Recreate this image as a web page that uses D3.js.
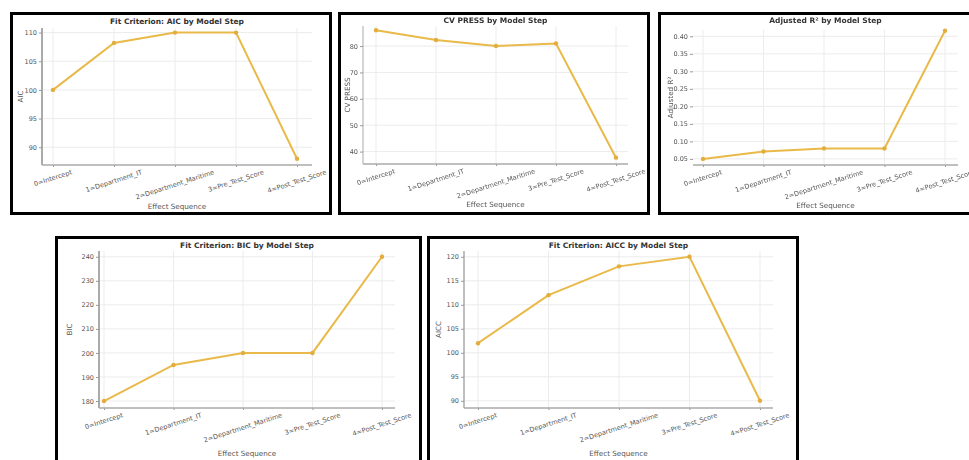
<!doctype html>
<html>
<head>
<meta charset="utf-8">
<style>
    body {
        margin: 0;
        background: #fff;
        font-family: 'DejaVu Sans', sans-serif;
    }
    svg {
        display: block;
        filter: blur(0.45px);
    }
    .grid line {
        stroke: #ececec;
        stroke-width: 1;
    }
    .tick text {
        font-size: 6.5px;
        fill: #555;
        font-family: 'DejaVu Sans', sans-serif;
    }
    .tick line {
        stroke: #999;
    }
    text.title {
        font-size: 7.5px;
        font-weight: bold;
        fill: #333;
    }
    text.label {
        font-size: 7.2px;
        fill: #555;
    }
    text.cat {
        font-size: 6.6px;
        fill: #555;
    }
    .series {
        fill: none;
        stroke: #e9b949;
        stroke-width: 2;
    }
    .dot {
        fill: #e2ad3a;
    }
</style>
<script src="https://d3js.org/d3.v7.min.js"></script>
</head>
<body>
<svg width="969" height="460"></svg>
<script>
    // model steps (x categories)
    const steps = ['0=Intercept', '1=Department_IT', '2=Department_Maritime', '3=Pre_Test_Score', '4=Post_Test_Score'];

    // series values
    const aicValues   = [100, 108.2, 110, 110, 88];
    const pressValues = [86, 82.3, 80, 81, 37.7];
    const adjR2Values = [0.05, 0.071, 0.08, 0.08, 0.416];
    const bicValues   = [180, 195, 200, 200, 240];
    const aiccValues  = [102, 112, 118, 120, 90];

    // tick labels
    const aicTicks   = [90, 95, 100, 105, 110];
    const pressTicks = [40, 50, 60, 70, 80];
    const adjR2Ticks = [0.05, 0.10, 0.15, 0.20, 0.25, 0.30, 0.35, 0.40];
    const bicTicks   = [180, 190, 200, 210, 220, 230, 240];
    const aiccTicks  = [90, 95, 100, 105, 110, 115, 120];

    // layout: box = outer frame, plot = [left, top, right, bottom], xr = first/last point
    const panels = [
        {title: 'Fit Criterion: AIC by Model Step', ylab: 'AIC', values: aicValues, ticks: aicTicks,
         fmt: d3.format('d'), box: [10, 12, 332, 215], plot: [42, 28, 312, 165], xr: [53, 297],
         yd: [86.9, 110.8], axisW: 2, ylabX: 20, titleY: 21, xlabY: 206},
        {title: 'CV PRESS by Model Step', ylab: 'CV PRESS', values: pressValues, ticks: pressTicks,
         fmt: d3.format('d'), box: [338, 12, 650, 215], plot: [363, 26, 628, 164], xr: [376, 616],
         yd: [35.3, 87.6], axisW: 1, ylabX: 347, titleY: 20, xlabY: 204},
        {title: 'Adjusted R\u00b2 by Model Step', ylab: 'Adjusted R\u00b2', values: adjR2Values, ticks: adjR2Ticks,
         fmt: d3.format('.2f'), box: [658, 12, 975, 215], plot: [693, 30, 958, 165], xr: [703, 945],
         yd: [0.0326, 0.418], axisW: 0, ylabX: 670, titleY: 20, xlabY: 205},
        {title: 'Fit Criterion: BIC by Model Step', ylab: 'BIC', values: bicValues, ticks: bicTicks,
         fmt: d3.format('d'), box: [55, 236, 422, 465], plot: [99, 251, 395, 408], xr: [104, 382],
         yd: [177.1, 242.4], axisW: 2, ylabX: 69, titleY: 245, xlabY: 453},
        {title: 'Fit Criterion: AICC by Model Step', ylab: 'AICC', values: aiccValues, ticks: aiccTicks,
         fmt: d3.format('d'), box: [427, 236, 799, 465], plot: [464, 251, 773, 408], xr: [478, 760],
         yd: [88.5, 121.2], axisW: 1.5, ylabX: 438, titleY: 245, xlabY: 453}
    ];

    const svg = d3.select('svg');
    const rot = 18 * Math.PI / 180;

    panels.forEach(p => {
        const [l, t, r, b] = p.plot;
        const g = svg.append('g');

        g.append('rect')
            .attr('x', p.box[0] + 1.5)
            .attr('y', p.box[1] + 1.5)
            .attr('width', p.box[2] - p.box[0] - 3)
            .attr('height', p.box[3] - p.box[1] - 3)
            .attr('fill', '#fff')
            .attr('stroke', '#000')
            .attr('stroke-width', 3);

        const x = d3.scalePoint().domain(steps).range(p.xr);
        const y = d3.scaleLinear().domain(p.yd).range([b, t]);

        // grid
        const grid = g.append('g').attr('class', 'grid');
        grid.selectAll('line.h')
            .data(p.ticks)
            .join('line')
            .attr('class', 'h')
            .attr('x1', l).attr('x2', r)
            .attr('y1', d => y(d)).attr('y2', d => y(d));
        grid.selectAll('line.v')
            .data(steps)
            .join('line')
            .attr('class', 'v')
            .attr('x1', d => x(d)).attr('x2', d => x(d))
            .attr('y1', t).attr('y2', b);

        // y axis
        const ya = g.append('g')
            .attr('transform', `translate(${l},0)`)
            .call(d3.axisLeft(y).tickValues(p.ticks).tickSize(3).tickPadding(2).tickFormat(p.fmt));
        ya.select('.domain')
            .attr('stroke', '#aaa')
            .attr('stroke-width', p.axisW)
            .attr('d', `M0,${t}V${b}`);
        if (p.axisW === 0) ya.select('.domain').remove();

        // x axis
        const xa = g.append('g')
            .attr('transform', `translate(0,${b})`)
            .call(d3.axisBottom(x).tickSize(2).tickFormat(''));
        xa.select('.domain').remove();
        g.append('line')
            .attr('x1', l).attr('x2', r)
            .attr('y1', b).attr('y2', b)
            .attr('stroke', '#aaa')
            .attr('stroke-width', 1.5);

        // rotated category labels, bbox top just under the axis
        g.selectAll('text.cat')
            .data(steps)
            .join('text')
            .attr('class', 'cat')
            .attr('text-anchor', 'middle')
            .attr('dominant-baseline', 'central')
            .text(d => d)
            .each(function (d) {
                const len = this.getComputedTextLength();
                const h = len * Math.sin(rot) + 6.6 * Math.cos(rot);
                const cx = x(d);
                const cy = b + 4 + h / 2;
                d3.select(this)
                    .attr('x', cx).attr('y', cy)
                    .attr('transform', `rotate(-18,${cx},${cy})`);
            });

        // series
        g.append('path')
            .datum(p.values)
            .attr('class', 'series')
            .attr('d', d3.line().x((d, i) => x(steps[i])).y(d => y(d)));
        g.selectAll('circle.dot')
            .data(p.values)
            .join('circle')
            .attr('class', 'dot')
            .attr('cx', (d, i) => x(steps[i]))
            .attr('cy', d => y(d))
            .attr('r', 2.2);

        // titles
        g.append('text')
            .attr('class', 'title')
            .attr('x', (l + r) / 2)
            .attr('y', p.titleY)
            .attr('text-anchor', 'middle')
            .attr('dominant-baseline', 'central')
            .text(p.title);

        g.append('text')
            .attr('class', 'label')
            .attr('x', (l + r) / 2)
            .attr('y', p.xlabY)
            .attr('text-anchor', 'middle')
            .attr('dominant-baseline', 'central')
            .text('Effect Sequence');

        g.append('text')
            .attr('class', 'label')
            .attr('transform', `translate(${p.ylabX},${(t + b) / 2}) rotate(-90)`)
            .attr('text-anchor', 'middle')
            .attr('dominant-baseline', 'central')
            .text(p.ylab);
    });
</script>
</body>
</html>
